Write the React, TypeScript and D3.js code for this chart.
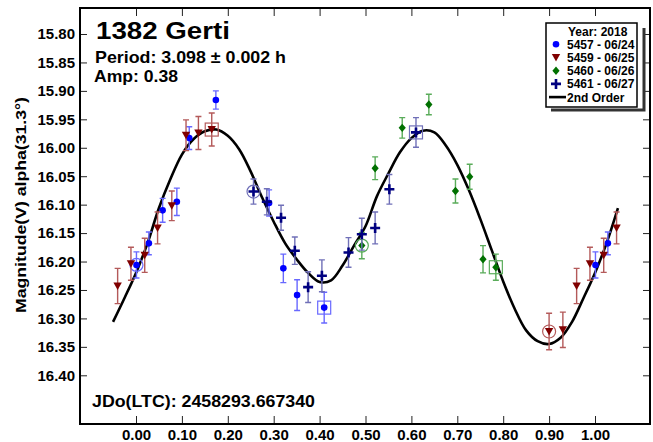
import { useEffect, useRef } from "react";
import * as d3 from "d3";

// tick values
const xTicks = [0, 0.1, 0.2, 0.3, 0.4, 0.5, 0.6, 0.7, 0.8, 0.9, 1.0];
const yTicks = [15.8, 15.85, 15.9, 15.95, 16.0, 16.05, 16.1, 16.15, 16.2, 16.25, 16.3, 16.35, 16.4];

// 5457 - 06/24 (blue circles)
const bluePhase = [0.001, 0.028, 0.058, 0.089, 0.116, 0.174, 0.29, 0.321, 0.351, 0.41];
const blueMag = [16.206, 16.168, 16.11, 16.095, 15.983, 15.916, 16.097, 16.212, 16.259, 16.281];
const blueErr = [0.023, 0.02, 0.021, 0.024, 0.02, 0.016, 0.023, 0.025, 0.027, 0.027];

// 5459 - 06/25 (dark red triangles)
const redPhase = [0.019, 0.047, 0.078, 0.109, 0.136, 0.165, 0.9, 0.93, 0.96, 0.989];
const redMag = [16.189, 16.141, 16.102, 15.978, 15.974, 15.968, 16.323, 16.32, 16.243, 16.204];
const redErr = [0.03, 0.028, 0.026, 0.027, 0.029, 0.029, 0.032, 0.031, 0.031, 0.029];

// 5460 - 06/26 (green diamonds)
const greenPhase = [0.492, 0.521, 0.58, 0.638, 0.696, 0.727, 0.756, 0.784];
const greenMag = [16.172, 16.036, 15.965, 15.924, 16.076, 16.051, 16.196, 16.21];
const greenErr = [0.023, 0.02, 0.018, 0.018, 0.021, 0.022, 0.024, 0.023];

// 5461 - 06/27 (navy plus)
const navyPhase = [0.256, 0.285, 0.316, 0.346, 0.375, 0.405, 0.463, 0.492, 0.521, 0.552, 0.61];
const navyMag = [16.077, 16.095, 16.123, 16.181, 16.245, 16.225, 16.184, 16.152, 16.141, 16.073, 15.973];
const navyErr = [0.022, 0.023, 0.022, 0.024, 0.027, 0.028, 0.026, 0.028, 0.028, 0.026, 0.026];

// 2nd order fit, one cycle read at 0.025 steps
const fitMag = [
  16.22, 16.168, 16.106, 16.055, 16.012, 15.985, 15.971, 15.968, 15.979, 16.003,
  16.042, 16.088, 16.13, 16.168, 16.196, 16.22, 16.236, 16.233, 16.207, 16.172,
  16.138, 16.085, 16.045, 16.008, 15.983, 15.97, 15.973, 15.996, 16.03, 16.074,
  16.125, 16.18, 16.235, 16.283, 16.321, 16.34, 16.345, 16.334, 16.306, 16.264,
];

const FONT = "'Liberation Sans', Arial, sans-serif";

type Pt = { p: number; m: number; e: number; idx: number };

function wrapPts(ph: number[], mg: number[], er: number[]): Pt[] {
  const out: Pt[] = [];
  ph.forEach((p, i) => {
    out.push({ p, m: mg[i], e: er[i], idx: i });
    if (p >= 0.95) out.push({ p: p - 1, m: mg[i], e: er[i], idx: -1 });
    if (p <= 0.05) out.push({ p: p + 1, m: mg[i], e: er[i], idx: -1 });
  });
  return out;
}

const series = [
  { name: "5457 - 06/24", shape: "circle", color: "#0000ff", light: "#6868ff", pts: wrapPts(bluePhase, blueMag, blueErr), first: 0, last: 9 },
  { name: "5459 - 06/25", shape: "tri", color: "#800000", light: "#b45a5a", pts: wrapPts(redPhase, redMag, redErr), first: 6, last: 5 },
  { name: "5460 - 06/26", shape: "diamond", color: "#007000", light: "#5aac5a", pts: wrapPts(greenPhase, greenMag, greenErr), first: 0, last: 7 },
  { name: "5461 - 06/27", shape: "plus", color: "#000080", light: "#7070b8", pts: wrapPts(navyPhase, navyMag, navyErr), first: 0, last: 10 },
];

function drawMarker(g: d3.Selection<SVGGElement, unknown, null, undefined>, shape: string, cx: number, cy: number, color: string) {
  if (shape === "circle") {
    g.append("circle").attr("cx", cx).attr("cy", cy).attr("r", 3.3).attr("fill", color);
  } else if (shape === "tri") {
    g.append("path")
      .attr("d", `M${cx - 4.2},${cy - 3.5}L${cx + 4.2},${cy - 3.5}L${cx},${cy + 4}Z`)
      .attr("fill", color);
  } else if (shape === "diamond") {
    g.append("path")
      .attr("d", `M${cx},${cy - 4.2}L${cx + 3.6},${cy}L${cx},${cy + 4.2}L${cx - 3.6},${cy}Z`)
      .attr("fill", color);
  } else {
    g.append("path")
      .attr("d", `M${cx - 5},${cy}H${cx + 5}M${cx},${cy - 5}V${cy + 5}`)
      .attr("stroke", color)
      .attr("stroke-width", 2.6)
      .attr("fill", "none");
  }
}

export default function App() {
  const svgRef = useRef<SVGSVGElement>(null);

  useEffect(() => {
    const svgEl = svgRef.current;
    if (!svgEl) return;
    const svg = d3.select(svgEl);
    svg.selectAll("*").remove();

    const left = 80, right = 650, top = 8, bottom = 424;

    const x = d3.scaleLinear().domain([0, 1]).range([136, 595]);
    const y = d3.scaleLinear().domain([15.8, 16.4]).range([34, 375.3]);

    svg.append("rect").attr("width", 653).attr("height", 442).attr("fill", "#fff");

    // axes with inward ticks
    const styleAxis = (ax: d3.Selection<SVGGElement, unknown, null, undefined>) => {
      ax.select(".domain").remove();
      ax.selectAll("line").attr("stroke", "#222").attr("stroke-width", 1);
      ax.selectAll("text")
        .attr("fill", "#000")
        .attr("font-family", FONT)
        .attr("font-weight", "bold")
        .attr("font-size", 15);
    };
    const axL = svg.append("g").attr("transform", `translate(${left},0)`)
      .call(d3.axisLeft(y).tickValues(yTicks).tickSize(-7).tickPadding(5).tickFormat(d3.format(".2f")));
    styleAxis(axL);
    const axR = svg.append("g").attr("transform", `translate(${right},0)`)
      .call(d3.axisRight(y).tickValues(yTicks).tickSize(-7).tickFormat(() => ""));
    styleAxis(axR);
    const axB = svg.append("g").attr("transform", `translate(0,${bottom})`)
      .call(d3.axisBottom(x).tickValues(xTicks).tickSize(-8).tickPadding(5).tickFormat(d3.format(".2f")));
    styleAxis(axB);
    const axT = svg.append("g").attr("transform", `translate(0,${top})`)
      .call(d3.axisTop(x).tickValues(xTicks).tickSize(-8).tickFormat(() => ""));
    styleAxis(axT);

    // fit curve, wrapped over -0.05 .. 1.05
    const n = fitMag.length;
    const fit: [number, number][] = [];
    for (let k = -2; k <= n + 2; k++) {
      fit.push([k / n, fitMag[((k % n) + n) % n]]);
    }
    svg.append("path")
      .datum(fit)
      .attr("fill", "none")
      .attr("stroke", "#000")
      .attr("stroke-width", 2.6)
      .attr("d", d3.line<[number, number]>().x((d) => x(d[0])).y((d) => y(d[1])).curve(d3.curveCatmullRom)(fit));

    // data
    series.forEach((s) => {
      const g = svg.append("g");
      s.pts.forEach((d) => {
        const cx = x(d.p);
        const y1 = y(d.m - d.e), y2 = y(d.m + d.e);
        g.append("path")
          .attr("d", `M${cx},${y1}V${y2}M${cx - 3},${y1}H${cx + 3}M${cx - 3},${y2}H${cx + 3}`)
          .attr("stroke", s.light)
          .attr("stroke-width", 1.4)
          .attr("fill", "none");
      });
      s.pts.forEach((d) => {
        const cx = x(d.p), cy = y(d.m);
        drawMarker(g, s.shape, cx, cy, s.color);
        if (d.idx === s.first) {
          g.append("circle").attr("cx", cx).attr("cy", cy).attr("r", 6.5)
            .attr("fill", "none").attr("stroke", s.light).attr("stroke-width", 1.2);
        }
        if (d.idx === s.last) {
          g.append("rect").attr("x", cx - 6.5).attr("y", cy - 6.5).attr("width", 13).attr("height", 13)
            .attr("fill", "none").attr("stroke", s.light).attr("stroke-width", 1.2);
        }
      });
    });

    // frame
    svg.append("rect")
      .attr("x", left).attr("y", top)
      .attr("width", right - left).attr("height", bottom - top)
      .attr("fill", "none").attr("stroke", "#000").attr("stroke-width", 2);

    // texts
    const txt = (s: string, tx: number, ty: number, size: number, len?: number) => {
      const t = svg.append("text").attr("x", tx).attr("y", ty)
        .attr("font-family", FONT).attr("font-weight", "bold")
        .attr("font-size", size).attr("fill", "#000").text(s);
      if (len) t.attr("textLength", len).attr("lengthAdjust", "spacingAndGlyphs");
      return t;
    };
    txt("1382 Gerti", 96, 39.3, 23, 134);
    txt("Period: 3.098 \u00b1 0.002 h", 95, 62.7, 17, 191);
    txt("Amp: 0.38", 94, 81.7, 17, 84);
    txt("JDo(LTC): 2458293.667340", 92, 407.3, 17, 223);

    svg.append("text")
      .attr("transform", "translate(25.5,205) rotate(-90)")
      .attr("text-anchor", "middle")
      .attr("font-family", FONT).attr("font-weight", "bold").attr("font-size", 14.5)
      .attr("textLength", 216).attr("lengthAdjust", "spacingAndGlyphs")
      .text("Magnitude(V) alpha(31.3\u00b0)");

    // legend
    const lg = svg.append("g");
    lg.append("path").attr("d", "M644,28V110H551").attr("fill", "none").attr("stroke", "#333").attr("stroke-width", 3);
    lg.append("rect").attr("x", 546).attr("y", 23).attr("width", 91).attr("height", 84)
      .attr("fill", "#fff").attr("stroke", "#000").attr("stroke-width", 1.5);
    const ltxt = (s: string, ty: number, tx = 567) =>
      lg.append("text").attr("x", tx).attr("y", ty).attr("font-family", FONT)
        .attr("font-weight", "bold").attr("font-size", 12).attr("fill", "#000").text(s);
    ltxt("Year: 2018", 35.5, 568);
    series.forEach((s, i) => {
      const cy = 44.3 + i * 13.2;
      drawMarker(lg, s.shape, 556, cy, s.color);
      ltxt(s.name, cy + 4.4);
    });
    const ly = 44.3 + 4 * 13.2;
    lg.append("line").attr("x1", 549).attr("x2", 566).attr("y1", ly).attr("y2", ly)
      .attr("stroke", "#000").attr("stroke-width", 2.6);
    ltxt("2nd Order", ly + 4.4);
  }, []);

  return (
    <div style={{ position: "fixed", left: 0, top: 0, width: 653, height: 442, background: "#fff" }}>
      <svg ref={svgRef} width={653} height={442} style={{ display: "block" }} />
    </div>
  );
}
